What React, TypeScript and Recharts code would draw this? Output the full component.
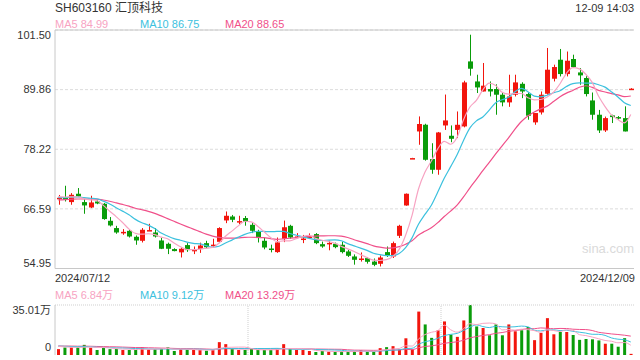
import { ComposedChart, Bar, Line, XAxis, YAxis, ReferenceLine, CartesianGrid, Cell } from 'recharts';

// daily candles, 2024/07/12 .. 2024/12/09
const opens = [
  68.6, 68.81, 67.91, 69.54, 67.91, 66.86, 68.03, 67.58, 64.26, 62.84,
  61.9, 62.3, 61.14, 60.36, 62.3, 61.98, 60.42, 59.77, 58.74, 58.1,
  59.52, 58.45, 58.74, 59.9, 59.5, 60.16, 64.33, 65.1, 64.05, 64.8,
  63.48, 62.17, 60.36, 58.85, 58.15, 60.75, 63.28, 61.1, 60.7, 61.1,
  61.67, 59.7, 59.8, 59.77, 59.58, 58.28, 57.3, 56.8, 56.98, 56.3,
  55.87, 58.15, 57.3, 61.33, 67.25, 76.49, 81.7, 83.01, 76.31, 74.22,
  82.87, 80.86, 82.0, 82.68, 95.37, 91.46, 89.5, 89.98, 89.98, 88.87,
  87.37, 88.87, 91.0, 89.0, 83.47, 85.41, 89.06, 91.99, 95.7, 92.9,
  95.84, 93.22, 92.13, 87.75, 84.96, 81.9, 84.83, 84.5, 84.3, 89.95,
];
const highs = [
  69.3, 71.1, 69.67, 70.65, 68.5, 69.15, 68.3, 67.72, 64.99, 63.28,
  62.64, 62.5, 61.4, 62.84, 63.68, 62.84, 60.9, 60.0, 58.9, 59.1,
  59.9, 59.25, 60.0, 60.36, 60.75, 63.0, 66.08, 65.4, 65.24, 65.2,
  63.93, 62.5, 60.9, 59.6, 61.0, 64.3, 63.48, 61.86, 61.5, 61.8,
  61.86, 60.2, 60.4, 60.0, 60.2, 58.6, 57.7, 58.08, 57.2, 56.9,
  57.5, 59.25, 60.2, 63.48, 69.6, 76.55, 84.63, 83.2, 79.4, 81.6,
  88.9, 82.87, 85.6, 91.6, 100.58, 92.77, 95.06, 91.46, 90.9, 89.4,
  92.77, 92.77, 91.3, 89.3, 85.3, 89.5, 97.99, 94.73, 97.8, 97.3,
  96.68, 94.08, 92.5, 89.3, 85.9, 84.6, 84.96, 84.7, 86.6, 90.15,
];
const lows = [
  67.4, 68.03, 67.39, 68.9, 65.63, 66.74, 67.5, 64.46, 63.15, 61.73,
  61.53, 61.0, 59.58, 60.03, 62.3, 61.0, 58.74, 57.76, 58.3, 57.1,
  58.2, 57.76, 58.0, 58.8, 59.0, 59.9, 63.8, 64.0, 63.6, 63.3,
  61.86, 60.03, 58.7, 58.1, 58.0, 60.1, 60.75, 60.85, 59.9, 60.7,
  59.7, 59.0, 58.5, 58.9, 57.9, 57.2, 55.7, 56.3, 55.9, 55.4,
  55.35, 57.2, 57.0, 60.9, 67.2, 76.45, 79.1, 76.0, 73.44, 73.25,
  82.0, 79.6, 80.4, 82.5, 92.58, 89.2, 89.5, 88.53, 84.96, 86.6,
  86.5, 88.53, 88.2, 83.99, 83.0, 85.0, 88.87, 91.46, 92.44, 92.44,
  94.08, 90.82, 88.53, 83.99, 81.4, 81.6, 83.34, 84.0, 81.7, 89.9,
];
const closes = [
  68.75, 68.36, 69.34, 69.01, 67.26, 67.84, 67.64, 64.6, 63.35, 61.98,
  62.1, 61.2, 60.42, 62.51, 62.45, 61.2, 58.8, 58.8, 58.35, 58.8,
  58.54, 58.6, 59.44, 59.1, 59.6, 62.84, 65.24, 64.46, 64.2, 64.1,
  62.31, 60.89, 59.05, 58.7, 60.03, 63.0, 61.0, 61.2, 60.8, 61.2,
  59.9, 59.25, 59.95, 59.12, 58.15, 57.43, 56.65, 56.9, 56.26, 55.67,
  57.1, 57.43, 59.9, 63.28, 69.54, 76.5, 83.15, 76.17, 74.22, 81.5,
  83.85, 80.27, 83.0, 91.27, 93.94, 90.29, 90.63, 89.5, 88.87, 87.37,
  88.53, 91.27, 89.5, 84.77, 85.29, 88.87, 93.75, 94.27, 92.9, 95.5,
  94.27, 92.64, 89.0, 84.96, 81.9, 84.3, 84.5, 84.4, 81.7, 90.05,
];
// 万
const volumes = [
  4.1, 5.3, 5.3, 5.3, 7.1, 5.1, 3.5, 5.1, 4.1, 4.4,
  3.5, 3.5, 3.5, 5.5, 3.9, 4.1, 4.4, 5.3, 2.8, 4.1,
  3.7, 3.5, 3.5, 3.0, 3.5, 9.0, 7.6, 4.1, 3.5, 3.5,
  4.1, 3.5, 3.5, 3.5, 4.1, 7.6, 4.1, 3.5, 3.5, 2.8,
  2.1, 2.8, 2.3, 2.1, 2.5, 2.3, 2.8, 3.5, 2.3, 2.3,
  4.8, 5.5, 6.2, 3.9, 11.7, 3.9, 30.4, 21.4, 12.0, 17.3,
  23.5, 14.3, 12.7, 24.2, 35.01, 20.0, 18.9, 13.8, 21.4, 13.8,
  21.4, 16.6, 17.3, 19.6, 10.4, 15.4, 25.8, 14.5, 16.1, 16.1,
  14.0, 10.6, 11.2, 11.0, 10.2, 7.9, 7.9, 5.8, 11.8, 0.8,
];
// sessions before the window, only used to seed the moving averages
const priorCloses = [67.2, 67.6, 67.9, 67.4, 67.8, 68.2, 67.9, 68.3, 68.0, 68.4, 68.1, 68.6, 68.3, 68.8, 69.0, 68.7, 69.2, 68.9, 69.3];
const priorVolumes = [6.1, 5.4, 7.2, 6.8, 5.9, 6.5, 7.4, 6.0, 5.7, 6.9, 6.3, 7.1, 5.8, 6.6, 6.2, 7.0, 6.4, 5.9, 6.7];

const priceTicks = [54.95, 66.59, 78.22, 89.86, 101.5];
const volTicks = [0, 35.01];
const firstDate = '2024/07/12';
const lastDate = '2024/12/09';
const monthStarts = [30, 60];

const RED = '#f2150d';
const GREEN = '#0a9c0a';
const MA5C = '#f7a3c2';
const MA10C = '#3cc1de';
const MA20C = '#f0508a';
const FONT = "Arial, 'Liberation Sans', 'Noto Sans CJK SC', sans-serif";

function movingAvg(values: number[], prior: number[], n: number) {
  const all = [...prior, ...values];
  return values.map((_, i) => {
    const end = prior.length + i + 1;
    const slice = all.slice(Math.max(0, end - n), end);
    return slice.reduce((a, b) => a + b, 0) / slice.length;
  });
}

const ma5 = movingAvg(closes, priorCloses, 5);
const ma10 = movingAvg(closes, priorCloses, 10);
const ma20 = movingAvg(closes, priorCloses, 20);
const vma5 = movingAvg(volumes, priorVolumes, 5);
const vma10 = movingAvg(volumes, priorVolumes, 10);
const vma20 = movingAvg(volumes, priorVolumes, 20);

const data = closes.map((c, i) => ({
  idx: i,
  open: opens[i],
  high: highs[i],
  low: lows[i],
  close: c,
  range: [lows[i], highs[i]],
  vol: volumes[i],
  ma5: ma5[i],
  ma10: ma10[i],
  ma20: ma20[i],
  vma5: vma5[i],
  vma10: vma10[i],
  vma20: vma20[i],
}));

function Candle(props: any) {
  const { x, y, width, height, payload } = props;
  const { open, close, high, low } = payload;
  const color = close >= open ? RED : GREEN;
  const yTop = Math.min(y, y + height);
  const h = Math.abs(height);
  const span = high - low;
  const toY = (v: number) => (span > 0 ? yTop + ((high - v) / span) * h : yTop);
  const top = toY(Math.max(open, close));
  const bot = toY(Math.min(open, close));
  const cx = Math.round(x + width / 2) + 0.5;
  return (
    <g>
      <line x1={cx} x2={cx} y1={yTop} y2={yTop + h} stroke={color} strokeWidth={1} />
      <rect x={cx - width / 2} y={top} width={width} height={Math.max(1.5, bot - top)} fill={color} />
    </g>
  );
}

const PriceTick = ({ y, payload }: any) => {
  const v = payload.value;
  const shift = v === priceTicks[priceTicks.length - 1] ? 5 : v === priceTicks[0] ? -5 : 0;
  return (
    <text x={51} y={y + shift} dy="0.35em" textAnchor="end" fontSize={11} fill="#333" fontFamily={FONT}>
      {v.toFixed(2)}
    </text>
  );
};

const VolTick = ({ y, payload }: any) => {
  const v = payload.value;
  const shift = v === 0 ? -7.5 : 5;
  return (
    <text x={51} y={y + shift} dy="0.35em" textAnchor="end" fontSize={11} fill="#333" fontFamily={FONT}>
      {v === 0 ? '0' : `${v.toFixed(2)}万`}
    </text>
  );
};

const label = (left: number, top: number, size: number, color: string, text: string, right = false) => (
  <div
    style={{
      position: 'absolute',
      top,
      ...(right ? { right: left } : { left }),
      fontSize: size,
      lineHeight: '14px',
      color,
      whiteSpace: 'nowrap',
      fontFamily: FONT,
    }}
  >
    {text}
  </div>
);

export default function App() {
  return (
    <div style={{ position: 'absolute', left: 0, top: 0, width: 640, height: 360, background: '#fff', overflow: 'hidden' }}>
      {label(55, 1, 12, '#333', 'SH603160 汇顶科技')}
      {label(6, 1, 11, '#333', '12-09 14:03', true)}
      {label(55, 17, 11, MA5C, 'MA5 84.99')}
      {label(140, 17, 11, MA10C, 'MA10 86.75')}
      {label(225, 17, 11, MA20C, 'MA20 88.65')}

      <div
        style={{
          position: 'absolute',
          left: 582,
          top: 242,
          fontSize: 13,
          color: '#dadada',
          fontFamily: FONT,
          lineHeight: '14px',
        }}
      >
        sina.com
      </div>

      <div style={{ position: 'absolute', left: 0, top: 0 }}>
        <ComposedChart width={640} height={270} data={data} margin={{ top: 30, right: 6, bottom: 0.5, left: 0 }}>
          <CartesianGrid vertical={false} stroke="#dcdcdc" strokeDasharray="3 2" />
          <XAxis dataKey="idx" tick={false} tickLine={false} height={1} axisLine={{ stroke: '#c8c8c8' }} />
          <YAxis
            domain={[54.95, 101.5]}
            ticks={priceTicks}
            interval={0}
            allowDataOverflow
            width={55}
            tickLine={false}
            axisLine={{ stroke: '#c8c8c8' }}
            tick={<PriceTick />}
          />
          <YAxis
            yAxisId="r"
            orientation="right"
            domain={[54.95, 101.5]}
            width={0}
            tick={false}
            tickLine={false}
            axisLine={{ stroke: '#c8c8c8' }}
          />
          <ReferenceLine y={101.5} stroke="#c8c8c8" />
          <Bar dataKey="range" barSize={5} shape={<Candle />} isAnimationActive={false} />
          <Line dataKey="ma20" type="monotone" stroke={MA20C} strokeWidth={1.2} dot={false} isAnimationActive={false} />
          <Line dataKey="ma10" type="monotone" stroke={MA10C} strokeWidth={1.2} dot={false} isAnimationActive={false} />
          <Line dataKey="ma5" type="monotone" stroke={MA5C} strokeWidth={1.2} dot={false} isAnimationActive={false} />
        </ComposedChart>
      </div>

      {label(55, 271, 11, '#333', firstDate)}
      {label(5, 271, 11, '#333', lastDate, true)}
      {label(55, 288, 11, MA5C, 'MA5 6.84万')}
      {label(140, 288, 11, MA10C, 'MA10 9.12万')}
      {label(225, 288, 11, MA20C, 'MA20 13.29万')}

      <div style={{ position: 'absolute', left: 0, top: 280 }}>
        <ComposedChart width={640} height={80} data={data} margin={{ top: 25, right: 6, bottom: 5, left: 0 }}>
          <XAxis dataKey="idx" hide />
          <YAxis
            domain={[0, 35.01]}
            ticks={volTicks}
            interval={0}
            allowDataOverflow
            width={55}
            tickLine={false}
            axisLine={{ stroke: '#c8c8c8' }}
            tick={<VolTick />}
          />
          <YAxis
            yAxisId="r"
            orientation="right"
            domain={[0, 35.01]}
            width={0}
            tick={false}
            tickLine={false}
            axisLine={{ stroke: '#cfcfcf', strokeDasharray: '1 1' }}
          />
          <ReferenceLine y={35.01} stroke="#cfcfcf" strokeDasharray="1 1" />
          {monthStarts.map((m) => (
            <ReferenceLine key={m} x={m} position="start" stroke="#cfcfcf" strokeDasharray="1 1" />
          ))}
          <Bar dataKey="vol" barSize={3} isAnimationActive={false}>
            {data.map((d) => (
              <Cell key={d.idx} fill={d.close >= d.open ? RED : GREEN} />
            ))}
          </Bar>
          <Line dataKey="vma20" type="monotone" stroke={MA20C} strokeWidth={1} dot={false} isAnimationActive={false} />
          <Line dataKey="vma10" type="monotone" stroke={MA10C} strokeWidth={1} dot={false} isAnimationActive={false} />
          <Line dataKey="vma5" type="monotone" stroke={MA5C} strokeWidth={1} dot={false} isAnimationActive={false} />
        </ComposedChart>
      </div>
    </div>
  );
}
